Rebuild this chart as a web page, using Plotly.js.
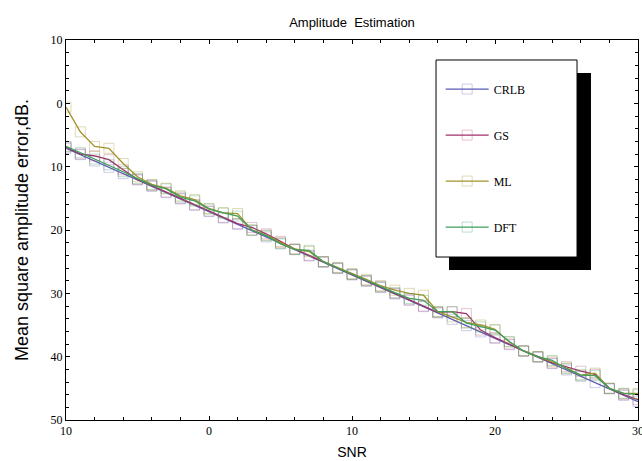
<!DOCTYPE html>
<html>
<head>
<meta charset="utf-8">
<script src="https://cdn.plot.ly/plotly-3.0.1.min.js"></script>
<style>html,body{margin:0;padding:0;background:#fff;}#chart{width:642px;height:461px;}</style>
</head>
<body>
<div id="chart"></div>
<script>
var snr = [-10,-9,-8,-7,-6,-5,-4,-3,-2,-1,0,1,2,3,4,5,6,7,8,9,10,11,12,13,14,15,16,17,18,19,20,21,22,23,24,25,26,27,28,29,30];
var crlb = [-7.1,-8.1,-9.1,-10.1,-11.1,-12.1,-13.1,-14.1,-15.1,-16.1,-17.1,-18.1,-19.1,-20.1,-21.1,-22.1,-23.1,-24.1,-25.1,-26.1,-27.1,-28.1,-29.1,-30.1,-31.1,-32.1,-33.1,-34.1,-35.1,-36.1,-37.1,-38.1,-39.1,-40.1,-41.1,-42.1,-43.1,-44.1,-45.1,-46.1,-47.1];
var gs = [-6.9,-8.0,-8.3,-8.9,-10.5,-12.0,-13.0,-14.0,-15.0,-16.0,-17.0,-18.0,-19.0,-19.6,-20.6,-21.8,-23.0,-24.0,-25.0,-26.0,-27.0,-28.0,-28.9,-30.0,-31.0,-32.0,-33.0,-32.9,-33.2,-35.8,-37.0,-38.0,-39.1,-40.0,-41.0,-41.6,-42.3,-42.8,-45.0,-46.0,-46.8];
var ml = [-0.6,-4.5,-6.8,-7.1,-9.5,-11.6,-12.8,-13.4,-14.6,-15.2,-16.6,-17.3,-17.4,-20.0,-20.8,-22.0,-23.0,-23.4,-25.0,-25.9,-26.9,-27.8,-28.8,-29.5,-30.0,-30.3,-32.9,-33.7,-34.6,-35.0,-35.7,-37.7,-39.1,-40.0,-40.8,-41.8,-42.9,-42.6,-45.0,-45.8,-45.8];
var dft = [-6.8,-7.8,-8.8,-9.7,-10.8,-11.9,-12.9,-13.5,-14.8,-15.4,-16.7,-17.3,-17.8,-20.0,-20.9,-22.2,-23.1,-23.2,-25.0,-26.0,-27.0,-28.0,-29.0,-29.9,-30.8,-31.1,-32.9,-32.9,-34.7,-35.3,-35.8,-37.6,-39.1,-40.0,-40.6,-41.9,-42.9,-43.0,-45.0,-45.8,-46.0];
var seriesNames = ['CRLB','GS','ML','DFT'];
var xTickVals = [-10,0,10,20,30];
var xTickText = ['10','0','10','20','30'];
var yTickVals = [10,0,-10,-20,-30,-40,-50];
var yTickText = ['10','0','10','20','30','40','50'];

var lineColors = ['#5a5ab8','#a0306a','#a39228','#3f9f5c'];
var markColors = ['rgba(90,90,184,0.30)','rgba(170,60,110,0.30)','rgba(170,150,50,0.35)','rgba(70,160,95,0.35)'];
var ys = [crlb, gs, ml, dft];

var traces = ys.map(function(v, i){
  return {
    x: snr, y: v, name: seriesNames[i], type: 'scatter', mode: 'lines+markers',
    legendgroup: 'g' + i,
    line: {color: lineColors[i], width: 1.3},
    marker: {symbol: 'square-open', size: 10, color: markColors[i], line: {width: 1, color: markColors[i]}}
  };
});

var serif = 'Liberation Serif, Times New Roman, serif';
var sans = 'Liberation Sans, Arial, sans-serif';

var layout = {
  width: 642, height: 461,
  margin: {l: 66, r: 4, t: 40, b: 41},
  paper_bgcolor: '#fff', plot_bgcolor: '#fff',
  title: {text: 'Amplitude  Estimation', font: {family: sans, size: 13, color: '#000'}, x: 0.5, xref: 'paper', y: 0.962, yref: 'container'},
  showlegend: true,
  legend: {x: 0.655, y: 0.909, xanchor: 'left', yanchor: 'top', bgcolor: 'rgba(0,0,0,0)', borderwidth: 0,
           font: {family: serif, size: 12, color: '#000'}, traceorder: 'grouped', tracegroupgap: 27, itemwidth: 43},
  xaxis: {range: [-10, 30], tickmode: 'array', tickvals: xTickVals, ticktext: xTickText,
          ticks: 'inside', ticklen: 4, tickcolor: '#000', showline: true, linecolor: '#000', linewidth: 1,
          mirror: 'ticks', showgrid: false, zeroline: false, ticklabeloverflow: 'allow',
          minor: {ticks: 'inside', dtick: 2, ticklen: 3, tickcolor: '#000', showgrid: false},
          tickfont: {family: serif, size: 12, color: '#000'},
          title: {text: 'SNR', font: {family: sans, size: 14, color: '#000'}, standoff: 9}},
  yaxis: {range: [-50, 10], tickmode: 'array', tickvals: yTickVals, ticktext: yTickText,
          ticks: 'inside', ticklen: 4, tickcolor: '#000', showline: true, linecolor: '#000', linewidth: 1,
          mirror: 'ticks', showgrid: false, zeroline: false,
          minor: {ticks: 'inside', dtick: 2, ticklen: 3, tickcolor: '#000', showgrid: false},
          tickfont: {family: serif, size: 12, color: '#000'},
          title: {text: 'Mean square amplitude error,dB.', font: {family: sans, size: 18, color: '#000'}, standoff: 17}},
  shapes: [
    {type: 'rect', xref: 'paper', yref: 'paper', x0: 0.6696, x1: 0.9178, y0: 0.3947, y1: 0.9132,
     fillcolor: '#000', line: {width: 0}, layer: 'below'},
    {type: 'rect', xref: 'paper', yref: 'paper', x0: 0.6469, x1: 0.8934, y0: 0.4289, y1: 0.9474,
     fillcolor: '#fff', line: {width: 1, color: '#000'}, layer: 'below'}
  ]
};

Plotly.newPlot('chart', traces, layout, {displayModeBar: false, staticPlot: true});
</script>
</body>
</html>
